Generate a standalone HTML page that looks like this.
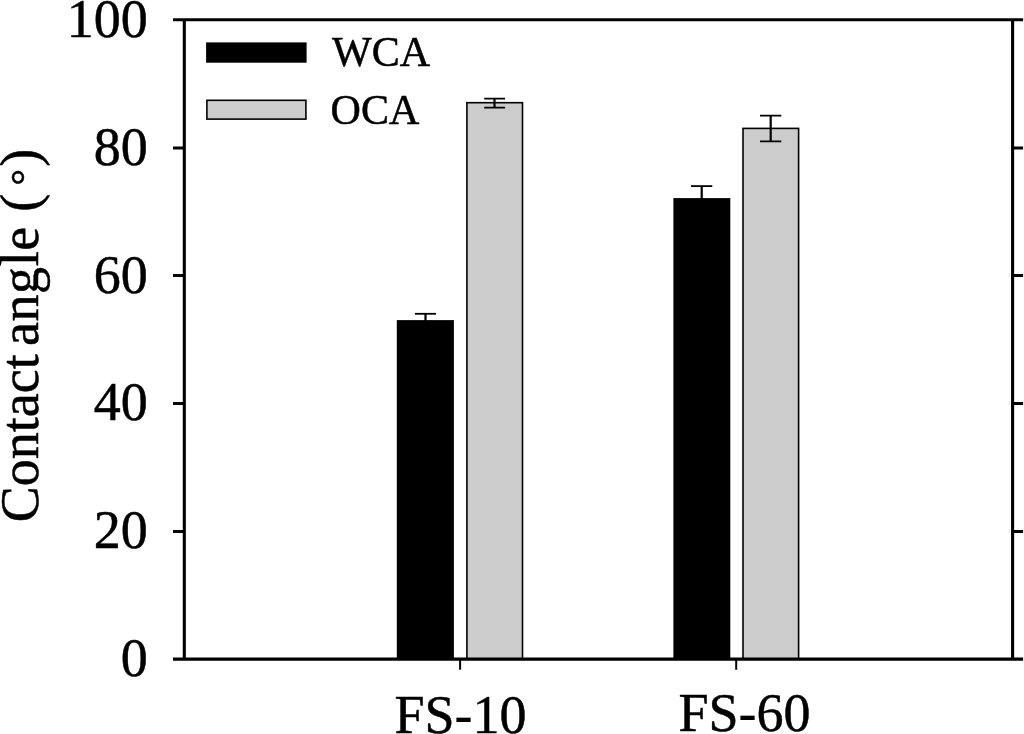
<!DOCTYPE html>
<html>
<head>
<meta charset="utf-8">
<title>Contact angle</title>
<style>
html,body{margin:0;padding:0;background:#fff;}
body{width:1024px;height:734px;overflow:hidden;}
svg{display:block;filter:blur(0.4px);}
text{font-family:"Liberation Serif","Times New Roman",Times,serif;fill:#000;stroke:#000;stroke-width:0.5px;stroke-linejoin:round;}
.tk{font-size:54px;}
.lg{font-size:42px;}
</style>
</head>
<body>
<svg width="1024" height="734" viewBox="0 0 1024 734">
<rect x="0" y="0" width="1024" height="734" fill="#ffffff"/>

<!-- bars -->
<rect x="396.8" y="320.1" width="57.1" height="339" fill="#000"/>
<rect x="466.9" y="102.7" width="55.6" height="556.4" fill="#cccccc" stroke="#000" stroke-width="1.6"/>
<rect x="673.4" y="198.1" width="56.9" height="461" fill="#000"/>
<rect x="743" y="128.4" width="55.6" height="530.7" fill="#cccccc" stroke="#000" stroke-width="1.6"/>

<!-- error bars -->
<g stroke="#000" stroke-width="2.2" fill="none">
  <path d="M425.5 321 V313.8"/>
  <path d="M494.5 98.6 V107.7"/>
  <path d="M701.7 199 V186.1"/>
  <path d="M770.7 115.7 V141.4"/>
</g>
<g stroke="#000" stroke-width="1.8" fill="none">
  <path d="M414.9 313.8 H436"/>
  <path d="M484.2 98.6 H505.1 M484.2 107.7 H505.1"/>
  <path d="M691 186.1 H712.3"/>
  <path d="M760 115.7 H781.3 M760 141.4 H781.3"/>
</g>

<!-- axes -->
<g stroke="#000" stroke-width="3.1" fill="none">
  <path d="M173 19.8 H1023.1"/>
  <path d="M173 659.1 H1023.1"/>
  <path d="M184.3 19.8 V659.1"/>
  <path d="M1012.6 19.8 V659.1"/>
</g>
<g stroke="#000" stroke-width="3" fill="none">
  <path d="M173 147.9 H184.3 M173 275.5 H184.3 M173 403.4 H184.3 M173 531.4 H184.3"/>
  <path d="M1012.6 147.9 H1023.1 M1012.6 275.5 H1023.1 M1012.6 403.4 H1023.1 M1012.6 531.4 H1023.1"/>
</g>
<g stroke="#000" stroke-width="2" fill="none">
  <path d="M460.1 659 V669.7 M736.2 659 V669.7"/>
</g>

<!-- y tick labels -->
<g class="tk" text-anchor="end">
  <text x="147.8" y="37">100</text>
  <text x="147.8" y="165">80</text>
  <text x="147.8" y="292.8">60</text>
  <text x="147.8" y="419.9">40</text>
  <text x="147.8" y="547.6">20</text>
  <text x="147.8" y="676">0</text>
</g>

<!-- x tick labels -->
<g class="tk">
  <text x="394.5" y="733">FS<tspan stroke-width="0.2">-</tspan>10</text>
  <text x="678.5" y="730.6">FS<tspan stroke-width="0.2">-</tspan>60</text>
</g>

<!-- legend -->
<rect x="206.1" y="42.4" width="100.5" height="20.3" fill="#000"/>
<rect x="206.9" y="100.3" width="99" height="18.8" fill="#cccccc" stroke="#000" stroke-width="1.6"/>
<g class="lg">
  <text x="332" y="65.9">WCA</text>
  <text x="330.6" y="123.6">OCA</text>
</g>

<!-- y axis label -->
<text class="tk" transform="translate(37.5 522.3) rotate(-90)"><tspan x="0" y="0">Contact </tspan><tspan x="176.2" y="0" letter-spacing="0.6">angle </tspan><tspan x="310.6" y="0.8">(</tspan><tspan x="336.7" y="1.65" font-size="41">°</tspan><tspan x="355.6" y="0.8">)</tspan></text>
</svg>
</body>
</html>
